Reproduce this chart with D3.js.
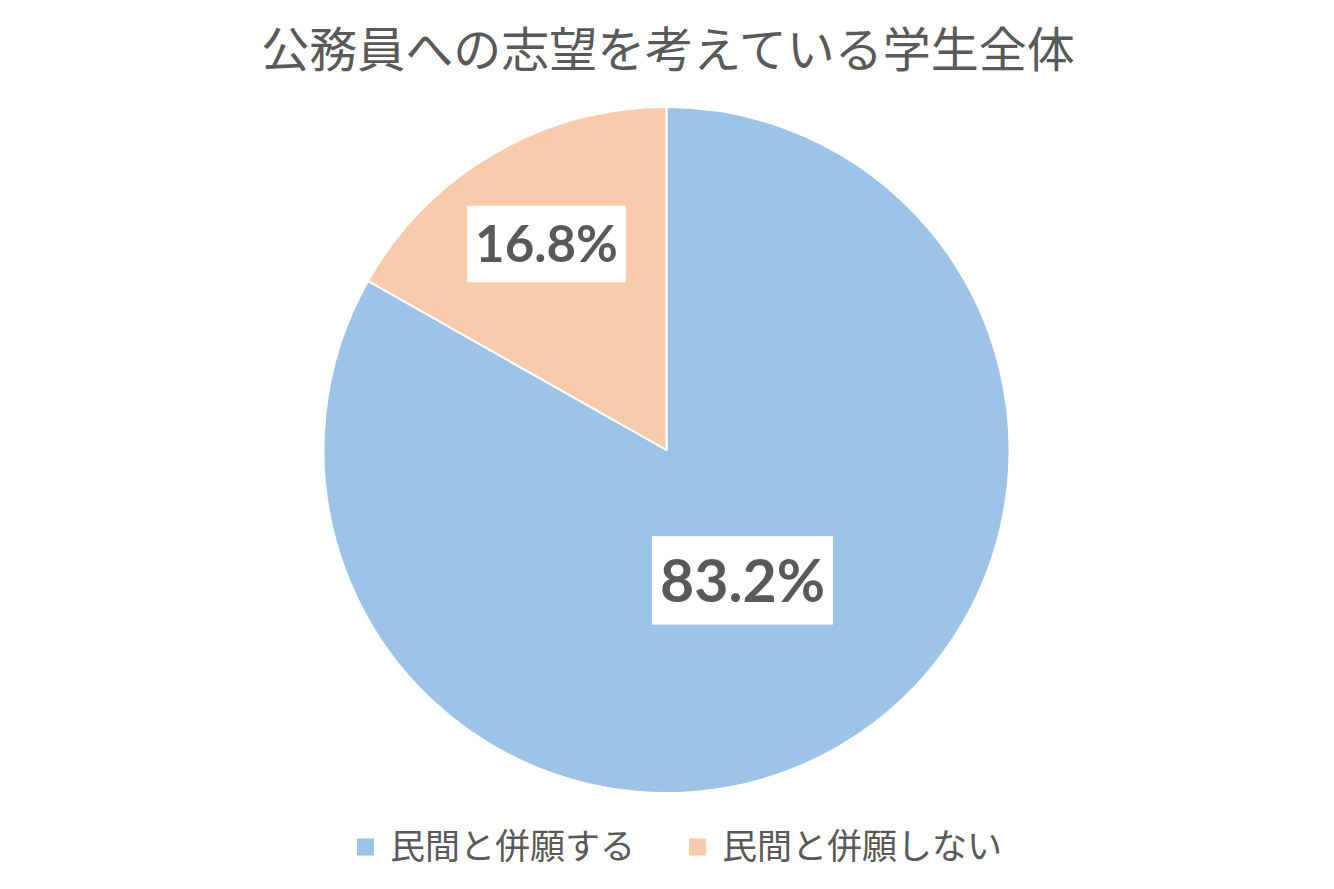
<!DOCTYPE html>
<html>
<head>
<meta charset="utf-8">
<script src="https://cdn.jsdelivr.net/npm/d3@7"></script>
<style>
  html, body { margin: 0; padding: 0; background: #fff; }
  svg { display: block; }
</style>
</head>
<body>
<svg id="chart" width="1334" height="889"></svg>
<script>
const title = "公務員への志望を考えている学生全体";
const categories = ["民間と併願する", "民間と併願しない"];
const values = [83.2, 16.8];
const labels = ["83.2%", "16.8%"];
const colors = ["#9DC3E6", "#F8CBAD"];

const W = 1334, H = 889;
const cx = 666.5, cy = 450, R = 343;
const textColor = "#595959";
const labelRadiusRatio = [0.44, 0.695];
const labelFontSize = [59, 51];

const svg = d3.select("#chart");

svg.append("text")
  .attr("x", 668).attr("y", 67)
  .attr("text-anchor", "middle")
  .attr("font-family", "'Noto Sans CJK JP', sans-serif")
  .attr("font-size", 48)
  .attr("fill", textColor)
  .text(title);

const pie = d3.pie().sort(null).value(d => d)(values);
const arc = d3.arc().innerRadius(0).outerRadius(R);

const g = svg.append("g").attr("transform", `translate(${cx},${cy})`);
g.selectAll("path.slice").data(pie).enter().append("path")
  .attr("class", "slice")
  .attr("d", arc)
  .attr("fill", (d, i) => colors[i])
  .attr("stroke", "#fff")
  .attr("stroke-width", 2)
  .attr("stroke-linejoin", "round");

pie.forEach((d, i) => {
  const lr = R * labelRadiusRatio[i];
  const c = d3.arc().innerRadius(lr).outerRadius(lr).centroid(d);
  const lg = g.append("g").attr("transform", `translate(${c[0]},${c[1]})`);
  const rect = lg.append("rect").attr("fill", "#fff");
  const t = lg.append("text")
    .attr("text-anchor", "middle")
    .attr("dy", "0.36em")
    .attr("font-family", "Lato, 'Liberation Sans', sans-serif")
    .attr("font-weight", "bold")
    .attr("font-size", labelFontSize[i])
    .attr("fill", textColor)
    .text(labels[i]);
  const bw = t.node().getComputedTextLength();
  const fs = labelFontSize[i];
  const w = bw + 16, h = fs * 1.5;
  rect.attr("x", -w / 2).attr("y", -h / 2).attr("width", w).attr("height", h);
});

// legend
const legendY = 847;
const legendX = 357;
const sq = 17, gapText = 16, gapItem = 54;
const lgd = svg.append("g");
let x0 = legendX;
categories.forEach((c, i) => {
  const it = lgd.append("g").attr("transform", `translate(${x0},0)`);
  it.append("rect").attr("width", sq).attr("height", sq).attr("y", legendY - sq / 2).attr("fill", colors[i]);
  const tx = it.append("text")
    .attr("x", sq + gapText).attr("y", legendY)
    .attr("dy", "0.35em")
    .attr("font-family", "'Noto Sans CJK JP', sans-serif")
    .attr("font-size", 35)
    .attr("fill", textColor)
    .text(c);
  x0 += sq + gapText + tx.node().getComputedTextLength() + gapItem;
});
</script>
</body>
</html>
